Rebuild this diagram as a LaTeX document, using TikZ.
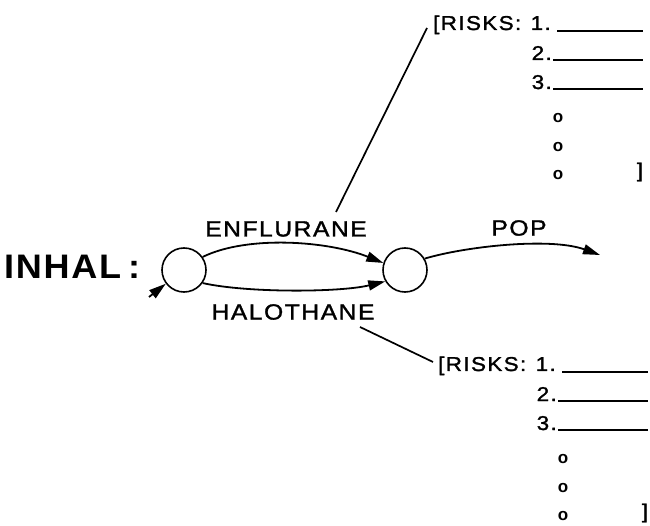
\documentclass[tikz,border=0pt]{standalone}
\usepackage{fontspec}
\setmainfont{Liberation Sans}
\newfontfamily\lett[FakeStretch=1.12,LetterSpace=7,FakeBold=1.5]{Liberation Sans}
\newfontfamily\lettbig[FakeStretch=1.06,LetterSpace=5]{Liberation Sans Bold}
\usetikzlibrary{arrows.meta}
\tikzset{
  arr/.style={line width=1.8pt, -{Triangle[length=17pt,width=10pt]}},
  state/.style={circle, draw, line width=1.6pt, minimum size=44pt, inner sep=0pt},
  lbl/.style={inner sep=0pt, font=\lett\fontsize{22}{22}\selectfont},
  big/.style={inner sep=0pt, font=\lettbig\fontsize{34}{34}\selectfont},
  rk/.style={inner sep=0pt, font=\lett\fontsize{20}{20}\selectfont},
  dotm/.style={inner sep=0pt, font=\bfseries\fontsize{17}{17}\selectfont},
  leader/.style={line width=1.7pt},
  uline/.style={line width=1.7pt},
}
\newcommand\risklist[2]{%
  \begin{scope}[shift={#2}]
    \node[rk, anchor=base west] (#1head) at (0,0) {[RISKS:};
    \node[rk, anchor=base east] (#1n1) at (118,0) {1.};
    \node[rk, anchor=base east] (#1n2) at (119,-30) {2.};
    \node[rk, anchor=base east] (#1n3) at (119,-59) {3.};
    \coordinate (#1a1) at (124,-1);  \coordinate (#1b1) at (210,-1);
    \coordinate (#1a2) at (120,-30); \coordinate (#1b2) at (210,-30);
    \coordinate (#1a3) at (120,-59); \coordinate (#1b3) at (210,-59);
    \draw[uline] (#1a1) -- (#1b1);
    \draw[uline] (#1a2) -- (#1b2);
    \draw[uline] (#1a3) -- (#1b3);
    \node[dotm] (#1d1) at (125,-88) {o};
    \node[dotm] (#1d2) at (125,-117) {o};
    \node[dotm] (#1d3) at (125,-145) {o};
    \node[rk] (#1close) at (207,-142) {]};
  \end{scope}}
\begin{document}
\begin{tikzpicture}[x=1pt,y=1pt]
\useasboundingbox (0,0) rectangle (650,525);
% main row
\node[big, anchor=west] (inhal) at (4,258) {INHAL\kern7pt:};
\node[state] (c1) at (184,255) {};
\node[state] (c2) at (405,255) {};
\node[lbl] (enfl) at (286,296) {ENFLURANE};
\node[lbl] (halo) at (293,213) {HALOTHANE};
\node[lbl] (pop) at (519,297) {POP};
\coordinate (in) at (149,228);
\coordinate (popend) at (600,270);
\draw[arr] (in) -- (c1.217);
\draw[arr] (c1.35) .. controls +(45,22) and +(-55,22) .. (c2.162);
\draw[arr] (c1.-35) .. controls +(45,-10) and +(-45,-11) .. (c2.210);
\draw[arr] (c2.30) .. controls +(40,12) and +(-50,18) .. (popend);
% risk lists
\risklist{T}{(433,495)}
\risklist{B}{(438,154)}
% leaders
\coordinate (tl) at (336,313);
\coordinate (tr) at (427,497);
\coordinate (bl) at (360,198);
\coordinate (br) at (433,163);
\draw[leader] (tl) -- (tr);
\draw[leader] (bl) -- (br);
\end{tikzpicture}
\end{document}
